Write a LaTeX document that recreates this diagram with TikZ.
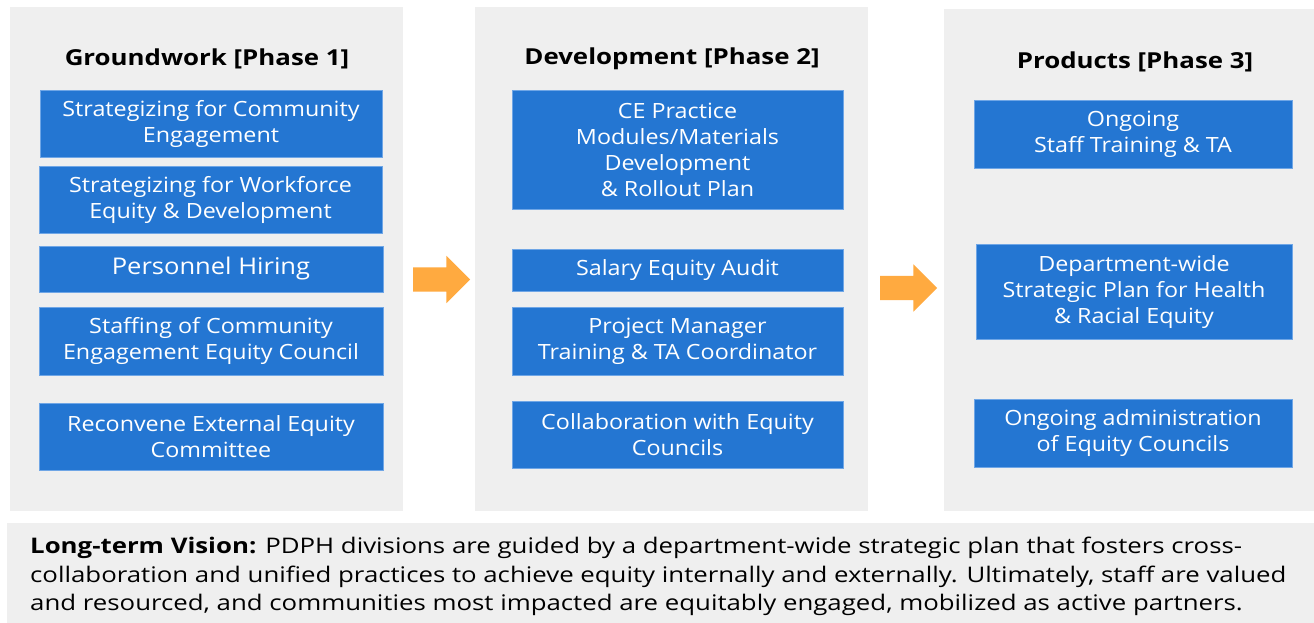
\documentclass[tikz,border=0pt]{standalone}
\usepackage{fontspec}
\setmainfont{Open Sans}
\newfontfamily\boxfont[FakeStretch=1.11]{Open Sans}
\newfontfamily\headfont[FakeStretch=1.175]{Open Sans}
\newfontfamily\visionfont[FakeStretch=1.20]{Open Sans}
\usetikzlibrary{shapes.arrows}
\definecolor{panelgray}{HTML}{EFEFEF}
\definecolor{boxblue}{HTML}{2476D2}
\definecolor{boxedge}{HTML}{6FA6E6}
\definecolor{arroworange}{HTML}{FFAA40}
\begin{document}
\begin{tikzpicture}[x=1pt,y=-1pt,
  panel/.style={fill=panelgray, draw=none, inner sep=0pt},
  heading/.style={font=\headfont\bfseries\fontsize{22}{26}\selectfont, text=black, inner sep=0pt},
  box/.style={fill=boxblue, draw=boxedge, line width=0.8pt, text=white, align=center,
    inner sep=0pt, font=\boxfont\fontsize{21}{26}\selectfont},
  flow/.style={single arrow, fill=arroworange, draw=none, inner sep=0pt,
    minimum height=57pt, minimum width=47pt, single arrow head extend=11.5pt,
    single arrow tip angle=90, text height=24pt}
]
\useasboundingbox[fill=white] (0,0) rectangle (1314,622);

% phase panels
\node[panel, minimum width=393pt, minimum height=504pt] (p1) at (206.5,259) {};
\node[panel, minimum width=393pt, minimum height=504pt] (p2) at (671.5,259) {};
\node[panel, minimum width=370pt, minimum height=502pt] (p3) at (1129,260) {};
\node[panel, minimum width=1307pt, minimum height=100pt, anchor=north west] (vision) at (7,523) {};

% headings
\node[heading] (h1) at (207,59) {Groundwork [Phase 1]};
\node[heading] (h2) at (672,59) {Development [Phase 2]};
\node[heading] (h3) at (1135,62) {Products [Phase 3]};

% phase 1
\node[box, minimum width=342pt, minimum height=67pt] (a1) at (211,123.5) {Strategizing for Community\\Engagement};
\node[box, minimum width=343pt, minimum height=67pt] (a2) at (210.5,199.5) {Strategizing for Workforce\\Equity \& Development};
\node[box, minimum width=344pt, minimum height=46pt, font=\boxfont\fontsize{23}{26}\selectfont] (a3) at (211,269) {Personnel Hiring};
\node[box, minimum width=344pt, minimum height=68pt] (a4) at (211,341) {Staffing of Community\\Engagement Equity Council};
\node[box, minimum width=344pt, minimum height=67pt] (a5) at (211,436.5) {Reconvene External Equity\\Committee};

% phase 2
\node[box, minimum width=331pt, minimum height=119pt] (b1) at (677.5,149.5) {CE Practice\\Modules/Materials\\Development\\\& Rollout Plan};
\node[box, minimum width=331pt, minimum height=42pt] (b2) at (677.5,270) {Salary Equity Audit};
\node[box, minimum width=331pt, minimum height=68pt] (b3) at (677.5,341) {Project Manager\\Training \& TA Coordinator};
\node[box, minimum width=331pt, minimum height=67pt] (b4) at (677.5,434.5) {Collaboration with Equity\\Councils};

% phase 3
\node[box, minimum width=318pt, minimum height=68pt] (c1) at (1133,134) {Ongoing\\Staff Training \& TA};
\node[box, minimum width=316pt, minimum height=95pt] (c2) at (1134,292) {Department-wide\\Strategic Plan for Health\\\& Racial Equity};
\node[box, minimum width=318pt, minimum height=68pt] (c3) at (1133,433) {Ongoing administration\\of Equity Councils};

% flow arrows between phases
\node[flow] (f1) at (435.5,279.5) {};
\node[flow] (f2) at (902.5,288) {};

% long-term vision text
\node[anchor=north west, inner sep=0pt, align=left, font=\visionfont\fontsize{21.5}{28.5}\selectfont] (vtext) at (30,537)
  {\textbf{Long-term Vision:} PDPH divisions are guided by a department-wide strategic plan that fosters cross-\\
   collaboration and unified practices to achieve equity internally and externally. Ultimately, staff are valued\\
   and resourced, and communities most impacted are equitably engaged, mobilized as active partners.};
\end{tikzpicture}
\end{document}
